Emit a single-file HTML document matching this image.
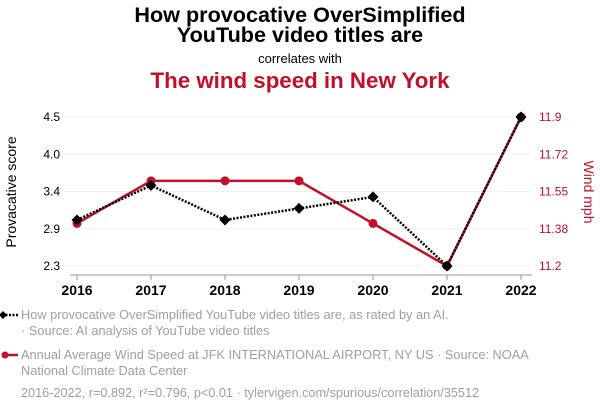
<!DOCTYPE html>
<html><head><meta charset="utf-8"><style>
body{margin:0;background:#fff;width:600px;height:414px;overflow:hidden;font-family:"Liberation Sans",sans-serif}
</style></head><body>
<svg id="c" width="600" height="414" xmlns="http://www.w3.org/2000/svg" font-family="Liberation Sans, sans-serif">
<text x="300" y="22" text-anchor="middle" font-size="21.6" font-weight="bold" fill="#000">How provocative OverSimplified</text>
<text x="300" y="42" text-anchor="middle" font-size="21.6" font-weight="bold" fill="#000">YouTube video titles are</text>
<text x="300" y="63" text-anchor="middle" font-size="13" fill="#000">correlates with</text>
<text x="300" y="88" text-anchor="middle" font-size="22.3" font-weight="bold" fill="#c0102a">The wind speed in New York</text>
<g id="plot"></g>
<text transform="translate(16,192) rotate(-90)" text-anchor="middle" font-size="14" fill="#000">Provacative score</text>
<text transform="translate(584,192) rotate(90)" text-anchor="middle" font-size="14" fill="#c0102a">Wind mph</text>
<g>
<line x1="2" y1="315" x2="18" y2="315" stroke="#000" stroke-width="2.5" stroke-dasharray="2,1.5"/>
<path d="M3 311 L7 315 L3 319 L-1 315Z" fill="#000"/>
<text x="21" y="319" font-size="12.8" fill="#a0a0a0">How provocative OverSimplified YouTube video titles are, as rated by an AI.</text>
<text x="21" y="335" font-size="12.8" fill="#a0a0a0">· Source: AI analysis of YouTube video titles</text>
</g>
<g>
<line x1="4" y1="355" x2="18" y2="355" stroke="#c0102a" stroke-width="2.5"/>
<circle cx="5" cy="355" r="3.5" fill="#c0102a"/>
<text x="21" y="359" font-size="12.8" fill="#a0a0a0">Annual Average Wind Speed at JFK INTERNATIONAL AIRPORT, NY US · Source: NOAA</text>
<text x="21" y="375" font-size="12.8" fill="#a0a0a0">National Climate Data Center</text>
</g>
<text x="21" y="397" font-size="12.7" fill="#a0a0a0">2016-2022, r=0.892, r²=0.796, p&lt;0.01 · tylervigen.com/spurious/correlation/35512</text>
</svg>
<script>
const years=[2016,2017,2018,2019,2020,2021,2022];
const provocative=[2.98,3.49,2.98,3.15,3.32,2.3,4.5];
const wind=[11.4,11.6,11.6,11.6,11.4,11.2,11.9];
const leftTicks=["2.3","2.9","3.4","4.0","4.5"];
const rightTicks=["11.2","11.38","11.55","11.72","11.9"];
const NS="http://www.w3.org/2000/svg";
const g=document.getElementById('plot');
const x=i=>77+i*(521-77)/(years.length-1);
const yL=v=>266-(v-2.3)/(4.5-2.3)*149;
const yR=v=>266-(v-11.2)/(11.9-11.2)*149;
function mk(t,a){const e=document.createElementNS(NS,t);for(const k in a)e.setAttribute(k,a[k]);g.appendChild(e);return e;}
for(let i=0;i<5;i++){const y=266-i*149/4;
 let l=mk('line',{x1:64,x2:530,y1:y,y2:y,stroke:'#f0f0f0','stroke-width':1});
 
 
 let t=mk('text',{x:60,y:y+4,'text-anchor':'end','font-size':12,fill:'#000'});t.textContent=leftTicks[i];
 
 
 let r=mk('text',{x:539,y:y+4,'font-size':12,fill:'#c0102a'});r.textContent=rightTicks[i];
 
 
}
let ax=mk('line',{x1:70,x2:532,y1:275,y2:275,stroke:'#999','stroke-width':1});


years.forEach((yr,i)=>{
 let tk=mk('line',{x1:x(i),x2:x(i),y1:275,y2:280,stroke:'#999'});
 
 
 let t=mk('text',{x:x(i),y:295,'text-anchor':'middle','font-size':14,'font-weight':'bold',fill:'#000'});t.textContent=yr;
 
 
});
let rp=mk('polyline',{points:wind.map((v,i)=>x(i)+','+yR(v)).join(' '),fill:'none',stroke:'#c0102a','stroke-width':2.5});


wind.forEach((v,i)=>{let c=mk('circle',{cx:x(i),cy:yR(v),r:4.5,fill:'#c0102a'});
 
 });
let bp=mk('polyline',{points:provocative.map((v,i)=>x(i)+','+yL(v)).join(' '),fill:'none',stroke:'#000','stroke-width':2.5,'stroke-dasharray':'2,1.5'});


provocative.forEach((v,i)=>{const cx=x(i),cy=yL(v);
 let d=mk('path',{d:`M${cx} ${cy-5.5}L${cx+5.5} ${cy}L${cx} ${cy+5.5}L${cx-5.5} ${cy}Z`,fill:'#000'});
 
 });
</script>
</body></html>
